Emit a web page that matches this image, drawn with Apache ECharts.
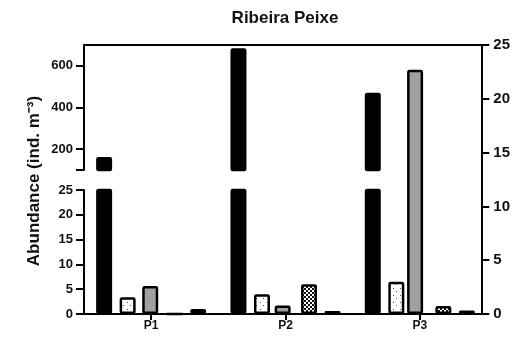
<!DOCTYPE html>
<html>
<head>
<meta charset="utf-8">
<script src="https://cdn.jsdelivr.net/npm/echarts@6/dist/echarts.min.js"></script>
<style>
  html, body { margin: 0; padding: 0; background: #fff; }
  #chart { width: 513px; height: 346px; }
</style>
</head>
<body>
<div id="chart"></div>
<script>
// 数据
var categories = ['P1', 'P2', 'P3']
var blackVals = [162, 685, 471]      // 左轴（断轴）
var dottedVals = [3.4, 4.0, 6.5]
var grayVals = [2.6, 0.8, 22.7]      // 右轴 0-25
var checkVals = [0, 6.0, 1.6]
var whiteVals = [1.0, 0.6, 0.7]
var upperLabels = [200, 400, 600]
var upperTicks = [100, 200, 400, 600]
var none = [null, null, null]

var font = 'Liberation Sans, Arial, sans-serif'

// 填充图案
function makePattern(kind) {
  var c = document.createElement('canvas')
  var ctx = c.getContext('2d')
  if (kind === 'dots') {
    c.width = 7; c.height = 7
    ctx.fillStyle = '#fff'
    ctx.fillRect(0, 0, 7, 7)
    ctx.fillStyle = '#555'
    ctx.fillRect(1, 1, 1, 1)
    ctx.fillRect(4, 4, 1, 1)
  } else {
    c.width = 4; c.height = 4
    ctx.fillStyle = '#fff'
    ctx.fillRect(0, 0, 4, 4)
    ctx.fillStyle = '#111'
    ctx.fillRect(0, 0, 2, 2)
    ctx.fillRect(2, 2, 2, 2)
  }
  return { image: c, repeat: 'repeat' }
}
var dotFill = makePattern('dots')
var checkFill = makePattern('check')

var bw = 16
var gap = '47%'

function bar(name, data, gi, fill, yIdx) {
  return {
    name: name,
    type: 'bar',
    xAxisIndex: gi,
    yAxisIndex: yIdx,
    data: data,
    barWidth: bw,
    barGap: gap,
    clip: true,
    silent: true,
    itemStyle: { color: fill, borderColor: '#000', borderWidth: 2.5, borderRadius: 1 }
  }
}

var myChart = echarts.init(document.getElementById('chart'))

var axisLineStyle = { color: '#000', width: 2 }
var labelStyle = { color: '#111', fontFamily: font, fontWeight: 'bold', fontSize: 13 }

var option = {
  animation: false,
  grid: [
    { left: 84, right: 26, top: 45, height: 125 },
    { left: 84, right: 26, top: 190, height: 124 },
    { left: 84, right: 26, top: 45, height: 269 }
  ],
  xAxis: [
    {
      type: 'category', gridIndex: 0, data: categories, position: 'top',
      axisLine: { show: true, lineStyle: axisLineStyle },
      axisTick: { show: false }, axisLabel: { show: false }
    },
    {
      type: 'category', gridIndex: 1, data: categories, position: 'bottom',
      axisLine: { show: true, onZero: false, lineStyle: axisLineStyle },
      axisTick: { show: true, alignWithLabel: true, length: 6, lineStyle: { color: '#000', width: 2 } },
      axisLabel: Object.assign({ margin: 6 }, labelStyle, { fontSize: 12 })
    },
    {
      type: 'category', gridIndex: 2, data: categories, show: false
    }
  ],
  yAxis: [
    {
      type: 'value', gridIndex: 0, min: 100, max: 700, position: 'left',
      axisLine: { show: true, lineStyle: axisLineStyle },
      axisTick: { show: true, length: 8, customValues: upperTicks, lineStyle: { color: '#000', width: 2 } },
      axisLabel: Object.assign({ customValues: upperLabels, margin: 11 }, labelStyle),
      splitLine: { show: false }
    },
    {
      type: 'value', gridIndex: 1, min: 0, max: 25, interval: 5, position: 'left',
      axisLine: { show: true, lineStyle: axisLineStyle },
      axisTick: { show: true, length: 8, lineStyle: { color: '#000', width: 2 } },
      axisLabel: Object.assign({ margin: 11 }, labelStyle),
      splitLine: { show: false }
    },
    {
      type: 'value', gridIndex: 2, min: 0, max: 25, interval: 5, position: 'right',
      axisLine: { show: true, lineStyle: axisLineStyle },
      axisTick: { show: true, length: 8, lineStyle: { color: '#000', width: 2 } },
      axisLabel: { color: '#111', fontFamily: font, fontWeight: 'bold', fontSize: 15, margin: 12 },
      splitLine: { show: false }
    }
  ],
  graphic: [
    {
      type: 'text', x: 285, y: 18,
      style: { text: 'Ribeira Peixe', fill: '#111', font: 'bold 17px ' + font, textAlign: 'center', textVerticalAlign: 'middle' }
    },
    {
      type: 'text', x: 34, y: 181, rotation: Math.PI / 2,
      style: { text: 'Abundance (ind. m⁻³)', fill: '#111', font: 'bold 17px ' + font, textAlign: 'center', textVerticalAlign: 'middle' }
    }
  ],
  series: [
    // 上半部分
    bar('black', blackVals, 0, '#000', 0),
    bar('dotted', none, 0, dotFill, 0),
    bar('gray', none, 0, '#a0a0a0', 0),
    bar('check', none, 0, checkFill, 0),
    bar('white', none, 0, '#fff', 0),
    // 下半部分
    bar('black', blackVals, 1, '#000', 1),
    bar('dotted', dottedVals, 1, dotFill, 1),
    bar('gray', none, 1, '#a0a0a0', 1),
    bar('check', checkVals, 1, checkFill, 1),
    bar('white', whiteVals, 1, '#fff', 1),
    // 右轴
    bar('black', none, 2, '#000', 2),
    bar('dotted', none, 2, dotFill, 2),
    bar('gray', grayVals, 2, '#a0a0a0', 2),
    bar('check', none, 2, checkFill, 2),
    bar('white', none, 2, '#fff', 2)
  ]
}

myChart.setOption(option)
</script>
</body>
</html>
